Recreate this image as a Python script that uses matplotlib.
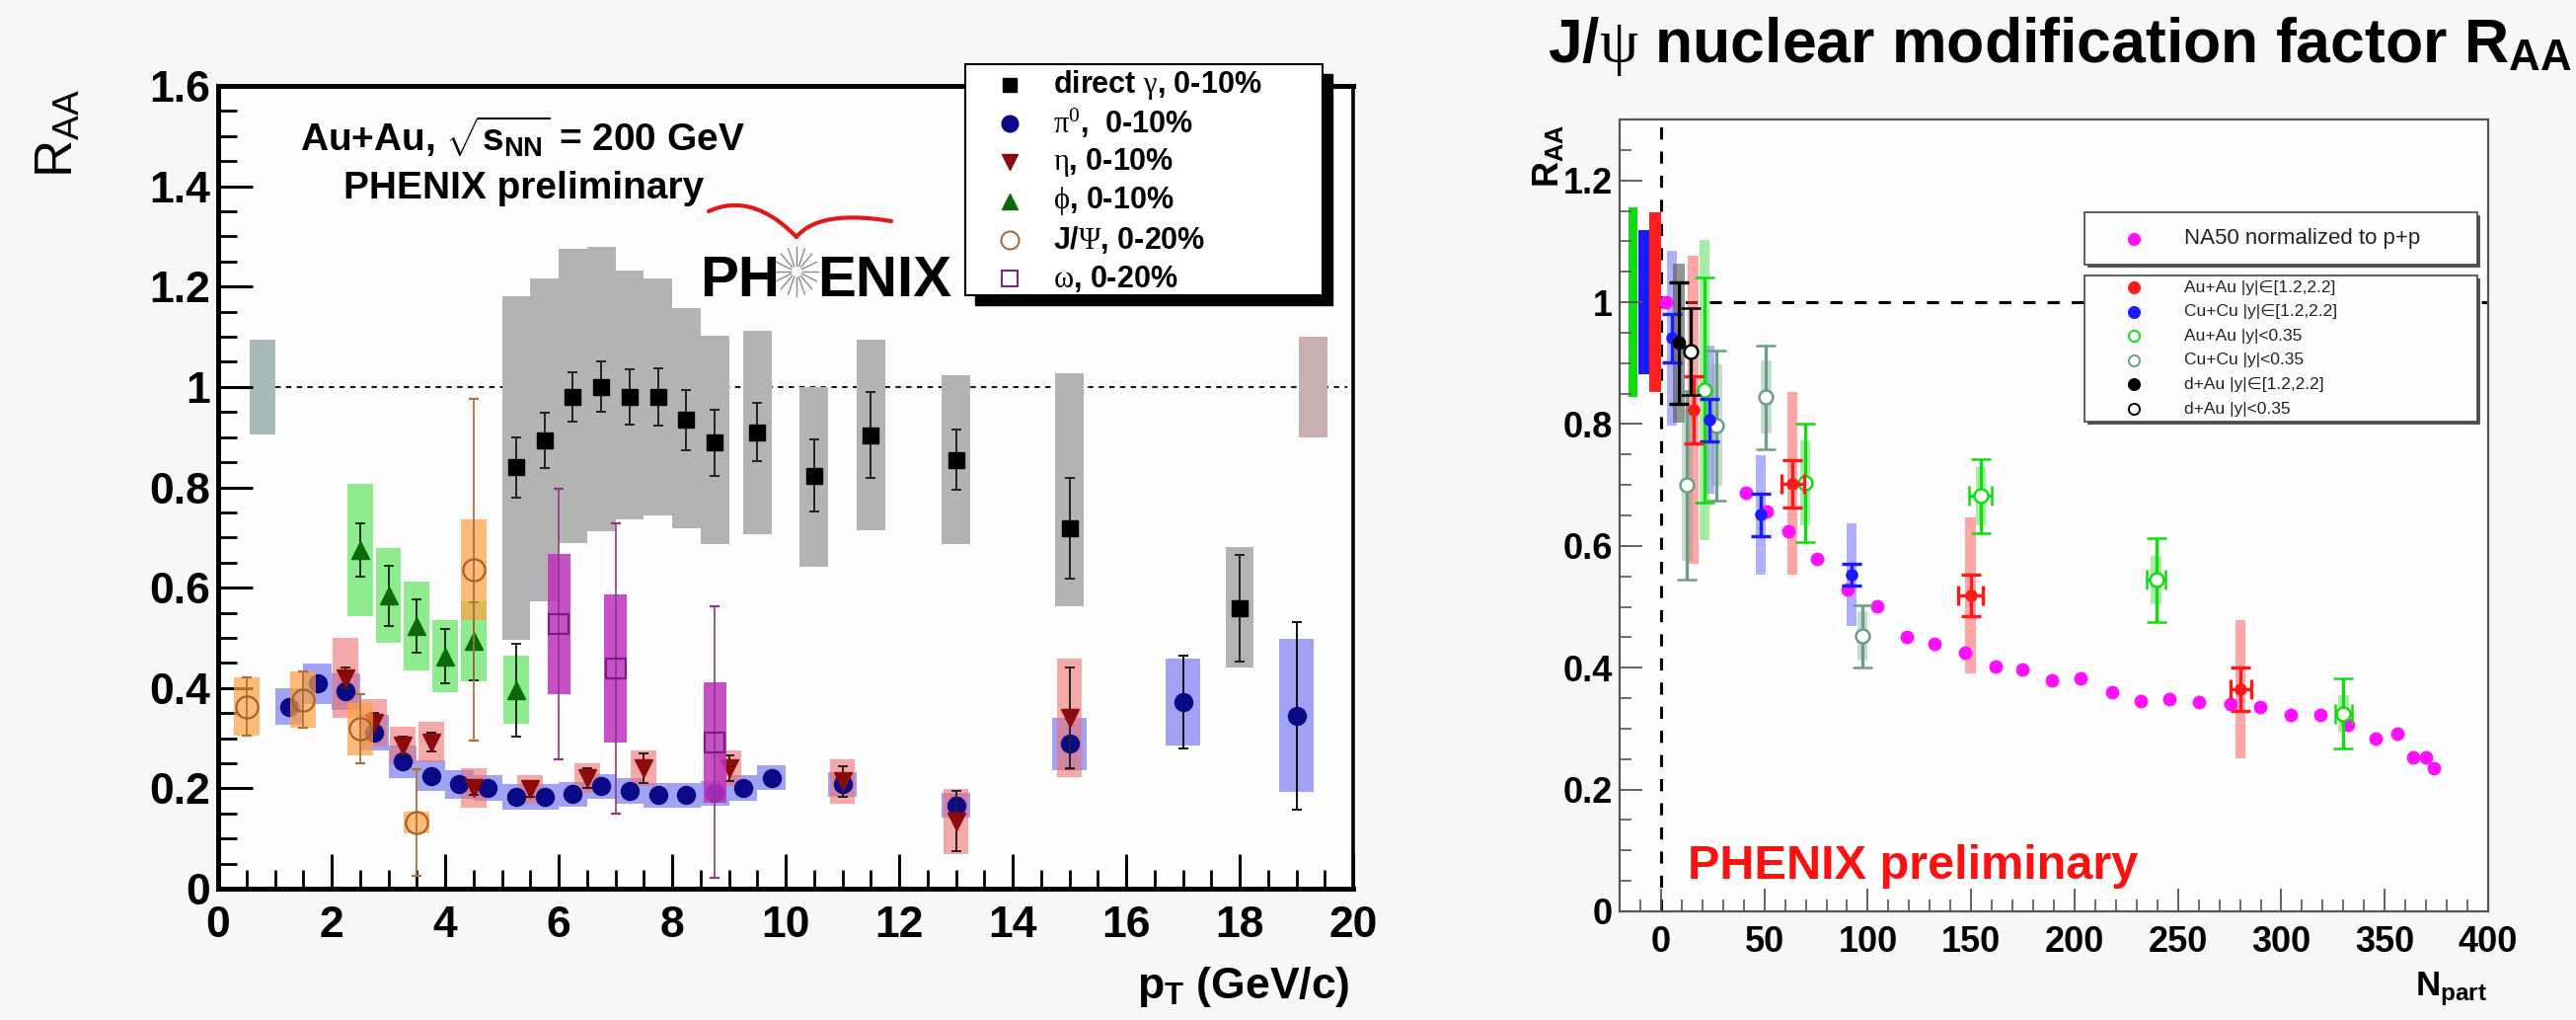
import numpy as np
import matplotlib
matplotlib.use("Agg")
import matplotlib.pyplot as plt
from matplotlib.patches import Rectangle
from matplotlib.lines import Line2D
from matplotlib.ticker import MultipleLocator, FormatStrFormatter

plt.rcParams['font.family'] = ['Liberation Sans', 'DejaVu Sans']
plt.rcParams['mathtext.fontset'] = 'custom'
plt.rcParams['mathtext.rm'] = 'Liberation Serif'
plt.rcParams['mathtext.it'] = 'Liberation Serif:italic'
plt.rcParams['mathtext.bf'] = 'Liberation Sans:bold'
plt.rcParams['mathtext.sf'] = 'Liberation Sans'

W, H = 2610, 1033

# ---------------- left panel: R_AA vs pT, Au+Au 200 GeV ----------------
gamma_pt = [5.25, 5.75, 6.25, 6.75, 7.25, 7.75, 8.25, 8.75, 9.5, 10.5, 11.5, 13, 15, 18]
gamma_r = [0.84, 0.894, 0.98, 1.0, 0.98, 0.98, 0.934, 0.889, 0.91, 0.823, 0.904, 0.855, 0.718, 0.559]
gamma_stat = [0.06, 0.055, 0.05, 0.05, 0.055, 0.057, 0.06, 0.066, 0.058, 0.072, 0.086, 0.06, 0.10, 0.106]
gamma_sys_lo = [0.496, 0.573, 0.689, 0.712, 0.736, 0.744, 0.718, 0.686, 0.707, 0.642, 0.714, 0.686, 0.563, 0.44]
gamma_sys_hi = [1.18, 1.216, 1.275, 1.28, 1.232, 1.216, 1.157, 1.102, 1.112, 1.0, 1.094, 1.023, 1.028, 0.68]

pi0_pt = [1.25, 1.75, 2.25, 2.75, 3.25, 3.75, 4.25, 4.75, 5.25, 5.75, 6.25, 6.75, 7.25, 7.75,
          8.25, 8.75, 9.25, 9.75, 11, 13, 15, 17, 19]
pi0_r = [0.363, 0.409, 0.393, 0.311, 0.253, 0.225, 0.208, 0.201, 0.183, 0.183, 0.188, 0.204, 0.195, 0.186,
         0.186, 0.19, 0.201, 0.221, 0.208, 0.166, 0.289, 0.372, 0.345]
pi0_stat = [0.008, 0.008, 0.008, 0.008, 0.008, 0.008, 0.008, 0.008, 0.008, 0.008, 0.008, 0.008, 0.008, 0.008,
            0.008, 0.008, 0.008, 0.01, 0.012, 0.015, 0.05, 0.093, 0.187]
pi0_sys = [0.037, 0.04, 0.036, 0.035, 0.032, 0.03, 0.029, 0.025, 0.025, 0.025, 0.025, 0.025, 0.025, 0.025,
           0.025, 0.025, 0.025, 0.025, 0.024, 0.024, 0.052, 0.086, 0.152]

eta_pt = [2.25, 2.75, 3.25, 3.75, 4.5, 5.5, 6.5, 7.5, 9.0, 11, 13, 15]
eta_r = [0.42, 0.331, 0.285, 0.292, 0.201, 0.198, 0.22, 0.24, 0.24, 0.214, 0.134, 0.34]
eta_stat = [0.02, 0.02, 0.018, 0.018, 0.015, 0.015, 0.02, 0.03, 0.025, 0.03, 0.06, 0.10]
eta_sys = [0.079, 0.047, 0.037, 0.04, 0.039, 0.029, 0.03, 0.036, 0.036, 0.044, 0.065, 0.118]

phi_pt = [2.5, 3.0, 3.5, 4.0, 4.5, 5.25]
phi_r = [0.675, 0.584, 0.523, 0.463, 0.493, 0.396]
phi_stat = [0.053, 0.06, 0.053, 0.054, 0.078, 0.093]
phi_sys = [0.131, 0.094, 0.089, 0.072, 0.08, 0.068]

jpsi_pt = [0.5, 1.5, 2.5, 3.5, 4.5]
jpsi_r = [0.363, 0.376, 0.318, 0.132, 0.636]
jpsi_stat = [0.058, 0.056, 0.069, 0.107, 0.34]
jpsi_sys = [0.058, 0.056, 0.052, 0.022, 0.1]

omega_pt = [6.0, 7.0, 8.75]
omega_r = [0.528, 0.439, 0.292]
omega_stat = [0.27, 0.29, 0.27]
omega_sys = [0.14, 0.148, 0.12]

norm_lo_sys = 0.095   # global scale uncertainty, low pT side
norm_hi_sys = 0.10    # global scale uncertainty, high pT side

left_labels = [r"direct $\mathrm{\gamma}$, 0-10%", r"$\mathrm{\pi}^{\mathrm{0}}$,  0-10%",
               r"$\mathrm{\eta}$, 0-10%", r"$\mathrm{\phi}$, 0-10%",
               r"J/$\mathrm{\Psi}$, 0-20%", r"$\mathrm{\omega}$, 0-20%"]

# ---------------- right panel: J/psi R_AA vs Npart ----------------
na50_npart = [2.5, 41, 51, 61.4, 75.6, 90.4, 104.6, 118.7, 132.3, 147, 162, 174.8, 189, 203, 218, 232,
              246, 260, 275.6, 289.8, 304.6, 318.7, 332.3, 345.5, 356, 363.8, 370, 373.9]
na50_raa = [1.0, 0.688, 0.656, 0.624, 0.579, 0.528, 0.501, 0.45, 0.44, 0.425, 0.402, 0.397, 0.379, 0.382,
            0.36, 0.345, 0.349, 0.343, 0.341, 0.336, 0.322, 0.322, 0.307, 0.283, 0.291, 0.253, 0.253, 0.235]

auau_fwd_npart = [15.6, 63.6, 149.7, 280.3]
auau_fwd_raa = [0.824, 0.702, 0.519, 0.365]
auau_fwd_stat = [0.055, 0.039, 0.034, 0.036]
auau_fwd_sys = [0.253, 0.15, 0.128, 0.113]
auau_fwd_xerr = [0, 5.5, 6, 5]

cucu_fwd_npart = [5.3, 23.3, 48.3, 92.2]
cucu_fwd_raa = [0.941, 0.807, 0.651, 0.553]
cucu_fwd_stat = [0.04, 0.035, 0.035, 0.018]
cucu_fwd_sys = [0.144, 0.121, 0.098, 0.084]

auau_mid_npart = [21, 69.7, 154.6, 239.4, 330]
auau_mid_raa = [0.856, 0.703, 0.682, 0.544, 0.325]
auau_mid_stat = [0.185, 0.097, 0.061, 0.069, 0.058]
auau_mid_sys = [0.246, 0.07, 0.048, 0.04, 0.03]
auau_mid_xerr = [0, 0, 5.5, 4.7, 4]

cucu_mid_npart = [12.6, 26.9, 50.8, 97.3]
cucu_mid_raa = [0.70, 0.798, 0.844, 0.452]
cucu_mid_stat = [0.155, 0.123, 0.085, 0.051]
cucu_mid_sys = [0.125, 0.1, 0.06, 0.04]

dau_fwd_npart = [8.6]
dau_fwd_raa = [0.933]
dau_fwd_stat = [0.1]
dau_fwd_sys = [0.131]

dau_mid_npart = [14.2]
dau_mid_raa = [0.919]
dau_mid_stat = [0.071]

# global uncertainties: Au+Au mid, Cu+Cu fwd, Au+Au fwd
global_sys = [0.155, 0.118, 0.148]

right_labels = ["Au+Au |y|\u2208[1.2,2.2]", "Cu+Cu |y|\u2208[1.2,2.2]", "Au+Au |y|<0.35",
                "Cu+Cu |y|<0.35", "d+Au |y|\u2208[1.2,2.2]", "d+Au |y|<0.35"]


def fx(px):
    return px / W


def fy(py):
    return 1 - py / H


def fbox(x0, y0, x1, y1):
    return [x0 / W, 1 - y1 / H, (x1 - x0) / W, (y1 - y0) / H]


fig = plt.figure(figsize=(W / 100, H / 100), dpi=100, facecolor='#f7f7f7')

# ======================= left panel =======================
ax1 = fig.add_axes(fbox(221, 87, 1371, 900))
ax1.set_facecolor('#fdfdfd')
ax1.set_xlim(0, 20)
ax1.set_ylim(0, 1.6)
ax1.hlines(1.0, 1.0, 19.9, colors='k', linestyles=(0, (3, 3)), lw=1.3, zorder=0.5)

ax1.bar(0.78, 2 * norm_lo_sys, bottom=1 - norm_lo_sys, width=0.45, color='#a6baba', lw=0, zorder=0.8)
ax1.bar(19.3, 2 * norm_hi_sys, bottom=1 - norm_hi_sys, width=0.5, color='#c8b0b0', lw=0, zorder=0.8)

ax1.bar(gamma_pt, np.subtract(gamma_sys_hi, gamma_sys_lo), bottom=gamma_sys_lo, width=0.5,
        color='#b3b3b3', lw=0, zorder=1.0)
ax1.errorbar(gamma_pt, gamma_r, yerr=gamma_stat, fmt='s', ms=11, color='k', ecolor='#222222',
             elinewidth=1.4, capsize=3.5, capthick=1.4, zorder=1.1)


def boxes(ax, x, y, dy, w, color, alpha, z):
    ax.bar(x, 2 * np.asarray(dy), bottom=np.subtract(y, dy), width=w, color=color,
           alpha=alpha, lw=0, zorder=z)


pi0_w = np.where(np.asarray(pi0_pt) > 14, 0.6, 0.5)
boxes(ax1, pi0_pt, pi0_r, pi0_sys, pi0_w, '#6666ee', 0.6, 1.2)
ax1.errorbar(pi0_pt, pi0_r, yerr=pi0_stat, fmt='o', ms=13, color='#0a0a88', ecolor='#111111',
             elinewidth=1.4, capsize=3.5, capthick=1.4, zorder=1.3)

boxes(ax1, eta_pt, eta_r, eta_sys, 0.45, '#f07070', 0.6, 1.4)
ax1.errorbar(eta_pt, eta_r, yerr=eta_stat, fmt='v', ms=13, color='#8b0a0a', ecolor='#222222',
             elinewidth=1.4, capsize=3.5, capthick=1.4, zorder=1.5)

boxes(ax1, phi_pt, phi_r, phi_sys, 0.45, '#33dd33', 0.55, 1.6)
ax1.errorbar(phi_pt, phi_r, yerr=phi_stat, fmt='^', ms=13, color='#0a6a0a', ecolor='#1a2a1a',
             elinewidth=1.4, capsize=3.5, capthick=1.4, zorder=1.7)

boxes(ax1, jpsi_pt, jpsi_r, jpsi_sys, 0.45, '#ffa040', 0.7, 1.8)
ax1.errorbar(jpsi_pt, jpsi_r, yerr=jpsi_stat, fmt='o', ms=16, mfc='none', mec='#a8602a', mew=1.6,
             ecolor='#b0703a', elinewidth=1.3, capsize=3.5, capthick=1.3, zorder=1.9)

boxes(ax1, omega_pt, omega_r, omega_sys, 0.4, '#c030c0', 0.85, 2.0)
ax1.errorbar(omega_pt, omega_r, yerr=omega_stat, fmt='s', ms=14, mfc='none', mec='#7a207a', mew=1.6,
             ecolor='#8a3a8a', elinewidth=1.2, capsize=3.5, capthick=1.2, zorder=2.1)

ax1.xaxis.set_major_locator(MultipleLocator(2))
ax1.xaxis.set_minor_locator(MultipleLocator(0.5))
ax1.yaxis.set_major_locator(MultipleLocator(0.2))
ax1.yaxis.set_minor_locator(MultipleLocator(0.05))
ax1.yaxis.set_major_formatter(FormatStrFormatter('%g'))
ax1.tick_params(which='major', direction='in', length=25, width=2.2, labelsize=32, pad=6)
ax1.tick_params(which='minor', direction='in', length=13.5, width=2.0)
ax1.tick_params(axis='x', which='major', pad=12)
for lab in ax1.get_xticklabels() + ax1.get_yticklabels():
    lab.set_fontweight('bold')
for side in ['left', 'bottom', 'top']:
    ax1.spines[side].set_linewidth(3.6)
ax1.spines['right'].set_linewidth(2.6)

ax1.text(5.37, 1.50, r"Au+Au, $\sqrt{\mathbf{s}_{\mathbf{NN}}}$ = 200 GeV", ha='center', va='center',
         fontsize=28, fontweight='bold')
ax1.text(5.38, 1.396, "PHENIX preliminary", ha='center', va='center', fontsize=28, fontweight='bold')

fig.text(fx(60), fy(135), r"R$_{\mathsf{AA}}$", rotation=90, ha='center', va='center', fontsize=38)
fig.text(fx(1368), fy(1000), r"p$_{\mathbf{T}}$ (GeV/c)", ha='right', va='center', fontsize=32,
         fontweight='bold')

# PHENIX logo
lg = fig.add_axes(fbox(690, 200, 985, 320))
lg.set_xlim(0, 295)
lg.set_ylim(120, 0)
lg.axis('off')
lg.text(100, 100, "PH", ha='right', va='baseline', fontsize=42, fontweight='bold')
lg.text(138, 100, "ENIX", ha='left', va='baseline', fontsize=42, fontweight='bold')
cx, cy = 117, 75
for a in np.linspace(0, 2 * np.pi, 16, endpoint=False):
    lg.plot([cx + 6 * np.cos(a), cx + 22 * np.cos(a)], [cy + 6 * np.sin(a), cy + 25 * np.sin(a)],
            color='#8a8a8a', lw=1.0)
t = np.linspace(0, 1, 40)
bx = (1 - t) ** 2 * 28 + 2 * (1 - t) * t * 72 + t ** 2 * 117
by = (1 - t) ** 2 * 14 + 2 * (1 - t) * t * (-6) + t ** 2 * 40
lg.plot(bx, by, color='#e01818', lw=3.0, solid_capstyle='round')
bx = (1 - t) ** 2 * 117 + 2 * (1 - t) * t * 140 + t ** 2 * 213
by = (1 - t) ** 2 * 40 + 2 * (1 - t) * t * 12 + t ** 2 * 24
lg.plot(bx, by, color='#e01818', lw=3.0, solid_capstyle='round')

# legend with ROOT-like drop shadow
lx0, ly0, lx1, ly1 = 978, 65, 1340, 299
fig.add_artist(Rectangle((fx(lx0 + 10), fy(ly1 + 10)), (lx1 - lx0) / W, (ly1 - ly0) / H,
                         transform=fig.transFigure, fc='k', ec='k', zorder=5))
fig.add_artist(Rectangle((fx(lx0), fy(ly1)), (lx1 - lx0) / W, (ly1 - ly0) / H,
                         transform=fig.transFigure, fc='white', ec='k', lw=1.5, zorder=6))
left_styles = [dict(marker='s', ms=10, mfc='k', mec='k'),
               dict(marker='o', ms=12, mfc='#0a0a88', mec='#0a0a88'),
               dict(marker='v', ms=12, mfc='#8b0a0a', mec='#8b0a0a'),
               dict(marker='^', ms=12, mfc='#0a6a0a', mec='#0a6a0a'),
               dict(marker='o', ms=13, mfc='none', mec='#a8602a', mew=1.4),
               dict(marker='s', ms=12, mfc='none', mec='#7a207a', mew=1.4)]
for i, (lab, st) in enumerate(zip(left_labels, left_styles)):
    yy = 86 + i * 39.2
    fig.add_artist(Line2D([fx(1023)], [fy(yy)], transform=fig.transFigure, ls='none', zorder=7, **st))
    fig.text(fx(1067), fy(yy), lab, ha='left', va='center', fontsize=22, fontweight='bold', zorder=7)

# ======================= right panel =======================
ax2 = fig.add_axes(fbox(1641, 121, 2521, 923))
ax2.set_facecolor('#fdfdfd')
ax2.set_xlim(-20, 400)
ax2.set_ylim(0, 1.3)
ax2.axvline(0, color='k', ls=(0, (4, 4)), lw=2.2, zorder=0.5)
ax2.hlines(1.0, 0, 400, colors='k', linestyles=(0, (4, 4)), lw=2.2, zorder=0.5)

# global uncertainties drawn left of Npart = 0
ax2.bar([-13.5, -8.25, -2.75], 2 * np.asarray(global_sys), bottom=1 - np.asarray(global_sys),
        width=[4.0, 5.5, 5.5], color=['#10dd10', '#1a1aff', '#ff2020'], lw=0, zorder=1)

boxes(ax2, cucu_fwd_npart, cucu_fwd_raa, cucu_fwd_sys, 5, '#5050ff', 0.45, 1.0)
boxes(ax2, dau_fwd_npart, dau_fwd_raa, dau_fwd_sys, 5.6, '#505050', 0.6, 1.05)
boxes(ax2, auau_fwd_npart, auau_fwd_raa, auau_fwd_sys, 5, '#ff5050', 0.5, 1.1)
boxes(ax2, auau_mid_npart, auau_mid_raa, auau_mid_sys, 5, '#40d840', 0.45, 1.15)
boxes(ax2, cucu_mid_npart, cucu_mid_raa, cucu_mid_sys, 5, '#6a9f85', 0.35, 1.2)

ax2.plot(na50_npart, na50_raa, 'o', ms=9, color='#ff10ff', zorder=2)

eb = dict(elinewidth=2.4, capsize=7, capthick=2.4)
ax2.errorbar(cucu_mid_npart, cucu_mid_raa, yerr=cucu_mid_stat, fmt='o', ms=10, mfc='white',
             mec='#6a9f85', mew=1.8, ecolor='#6a9f85', zorder=3, **eb)
ax2.errorbar(auau_mid_npart, auau_mid_raa, yerr=auau_mid_stat, xerr=auau_mid_xerr, fmt='o', ms=10,
             mfc='white', mec='#10dd10', mew=1.8, ecolor='#10dd10', zorder=3.1, **eb)
ax2.errorbar(cucu_fwd_npart, cucu_fwd_raa, yerr=cucu_fwd_stat, fmt='o', ms=8, color='#1a1aff',
             zorder=3.2, **eb)
ax2.errorbar(auau_fwd_npart, auau_fwd_raa, yerr=auau_fwd_stat, xerr=auau_fwd_xerr, fmt='o', ms=8,
             color='#ff1a1a', zorder=3.3, **eb)
ax2.errorbar(dau_fwd_npart, dau_fwd_raa, yerr=dau_fwd_stat, fmt='o', ms=9, color='k', zorder=3.4, **eb)
ax2.errorbar(dau_mid_npart, dau_mid_raa, yerr=dau_mid_stat, fmt='o', ms=10, mfc='white', mec='k',
             mew=1.8, ecolor='k', zorder=3.5, **eb)

ax2.xaxis.set_major_locator(MultipleLocator(50))
ax2.xaxis.set_minor_locator(MultipleLocator(10))
ax2.yaxis.set_major_locator(MultipleLocator(0.2))
ax2.yaxis.set_minor_locator(MultipleLocator(0.05))
ax2.yaxis.set_major_formatter(FormatStrFormatter('%g'))
ax2.tick_params(which='major', direction='in', length=16.5, width=1.3, color='#555555',
                labelsize=26, pad=5)
ax2.tick_params(which='minor', direction='in', length=8.5, width=1.2, color='#555555')
ax2.tick_params(axis='x', which='major', pad=10)
for lab in ax2.get_xticklabels() + ax2.get_yticklabels():
    lab.set_fontweight('bold')
for side in ax2.spines:
    ax2.spines[side].set_color('#555555')
    ax2.spines[side].set_linewidth(1.6)

ax2.text(12.9, 0.074, "PHENIX preliminary", ha='left', va='center', fontsize=35, fontweight='bold',
         color='#ff1010')

fig.text(fx(2087), fy(63), r"J/$\mathrm{\psi}$ nuclear modification factor R$_{\mathbf{AA}}$",
         ha='center', va='baseline', fontsize=45, fontweight='bold')
fig.text(fx(1570), fy(158), r"R$_{\mathbf{AA}}$", rotation=90, ha='center', va='center', fontsize=26,
         fontweight='bold')
fig.text(fx(2483), fy(1002), r"N$_{\mathbf{part}}$", ha='center', va='center', fontsize=25,
         fontweight='bold')

# right legends
for (bx0, by0, bx1, by1) in [(2112, 215, 2510, 268), (2112, 279, 2510, 427)]:
    fig.add_artist(Rectangle((fx(bx0 + 3), fy(by1 + 3)), (bx1 - bx0) / W, (by1 - by0) / H,
                             transform=fig.transFigure, fc='#555555', ec='none', zorder=5))
    fig.add_artist(Rectangle((fx(bx0), fy(by1)), (bx1 - bx0) / W, (by1 - by0) / H,
                             transform=fig.transFigure, fc='#fdfdfd', ec='#444444', lw=1.2, zorder=6))
fig.add_artist(Line2D([fx(2162)], [fy(242)], transform=fig.transFigure, ls='none', marker='o', ms=8.5,
                      color='#ff10ff', zorder=7))
fig.text(fx(2213), fy(242), "NA50 normalized to p+p", ha='left', va='center', fontsize=16,
         color='#222222', zorder=7)
right_styles = [dict(mfc='#ff1a1a', mec='#ff1a1a'), dict(mfc='#1a1aff', mec='#1a1aff'),
                dict(mfc='white', mec='#10dd10'), dict(mfc='white', mec='#6a9f85'),
                dict(mfc='k', mec='k'), dict(mfc='white', mec='k')]
for i, (lab, st) in enumerate(zip(right_labels, right_styles)):
    yy = 291 + i * 24.6
    fig.add_artist(Line2D([fx(2162)], [fy(yy)], transform=fig.transFigure, ls='none', marker='o',
                          ms=8, mew=1.4, zorder=7, **st))
    fig.text(fx(2213), fy(yy), lab, ha='left', va='center', fontsize=12.5, color='#222222', zorder=7)

fig.savefig('out.png', dpi=100, facecolor=fig.get_facecolor())
